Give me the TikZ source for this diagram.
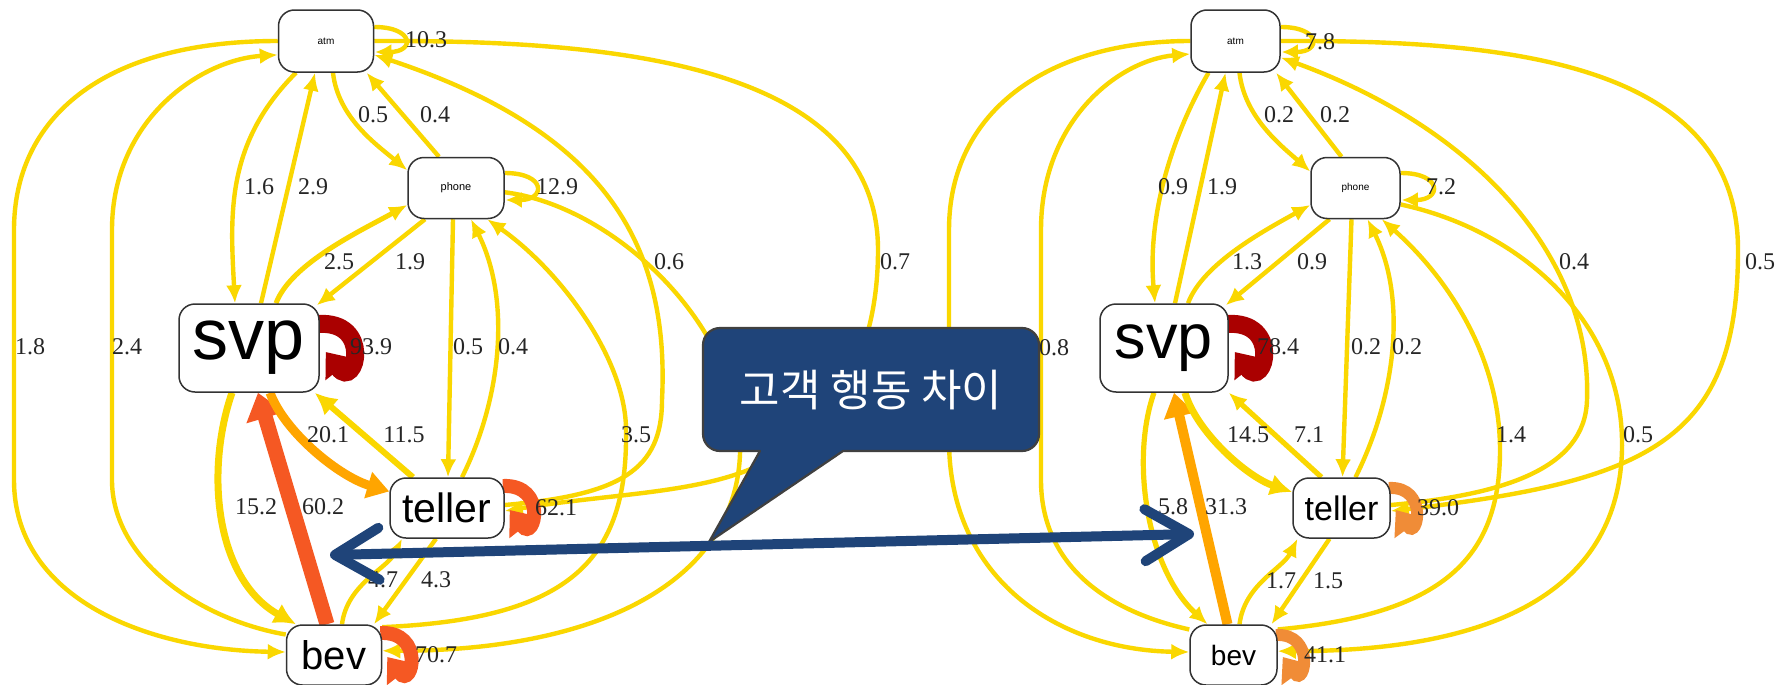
\documentclass[tikz,border=0pt]{standalone}
\usepackage{fontspec}
\setmainfont{Liberation Serif}
\newfontfamily\sansf{Liberation Sans}
\newfontfamily\cjk{Noto Sans CJK KR}
\usetikzlibrary{arrows.meta,calc}
\pgfdeclarelayer{bgl}
\pgfdeclarelayer{edgel}
\pgfsetlayers{bgl,edgel,main}
\definecolor{yel}{RGB}{250,215,0}
\definecolor{orng}{RGB}{255,165,0}
\definecolor{redor}{RGB}{245,88,35}
\definecolor{lor}{RGB}{240,140,55}
\definecolor{dkred}{RGB}{170,0,0}
\definecolor{navy}{RGB}{31,68,121}
\definecolor{rim}{RGB}{64,64,64}
\begin{document}
\begin{tikzpicture}[x=0.5pt,y=0.5pt,
  box/.style={draw=black!80, line width=0.75pt, fill=white, rounded corners=8pt, inner sep=0pt, text=black},
  ye/.style={draw=yel, line width=2.2pt, -{Latex[length=9pt,width=8pt]}},
  yethick/.style={draw=yel, line width=#1, -{Latex[length=11pt,width=11pt]}},
  lab/.style={font=\fontsize{12pt}{14pt}\selectfont, inner sep=0pt, text=black!85},
  selfloop/.style 2 args={draw=#1, line width=#2, -{Triangle[length=11pt,width=17pt]}},
  ylooptip/.style={draw=yel, line width=2.2pt, -{Latex[length=8pt,width=8pt]}}
]
\begin{pgfonlayer}{bgl}
  \fill[white] (0,0) rectangle (1783,-685);
\end{pgfonlayer}
\useasboundingbox (0,0) rectangle (1783,-685);

% ---------- nodes, left network ----------
\node[box, minimum width=47.5pt, minimum height=31pt, font=\sansf\fontsize{5pt}{6pt}\selectfont] (atmL) at (326,-41) {atm};
\node[box, minimum width=48pt, minimum height=30.5pt, font=\sansf\fontsize{5.5pt}{6pt}\selectfont] (phoneL) at (456,-188) {phone};
\node[box, minimum width=70pt, minimum height=44pt, font=\sansf\fontsize{36pt}{38pt}\selectfont] (svpL) at (249,-348) {svp};
\node[box, minimum width=57pt, minimum height=30pt, font=\sansf\fontsize{20.5pt}{22pt}\selectfont] (tellerL) at (447,-508) {teller};
\node[box, minimum width=47.5pt, minimum height=30pt, font=\sansf\fontsize{20pt}{22pt}\selectfont] (bevL) at (334,-655) {bev};

% ---------- nodes, right network ----------
\node[box, minimum width=44.5pt, minimum height=31pt, font=\sansf\fontsize{5pt}{6pt}\selectfont] (atmR) at (1235.5,-41) {atm};
\node[box, minimum width=44.5pt, minimum height=30.5pt, font=\sansf\fontsize{5pt}{6pt}\selectfont] (phoneR) at (1355.5,-188) {phone};
\node[box, minimum width=64pt, minimum height=44pt, font=\sansf\fontsize{31.5pt}{34pt}\selectfont] (svpR) at (1164,-348) {svp};
\node[box, minimum width=48.5pt, minimum height=30pt, font=\sansf\fontsize{17pt}{19pt}\selectfont] (tellerR) at (1341.5,-508) {teller};
\node[box, minimum width=43.5pt, minimum height=30pt, font=\sansf\fontsize{14pt}{16pt}\selectfont] (bevR) at (1233.5,-655) {bev};

\begin{pgfonlayer}{edgel}
% ---------- transitions, left network ----------
\draw[ye] ($(atmL.south)+(-30,0)$) .. controls +(-70,-70) and +(-5,90) .. ($(svpL.north)+(-14,0)$);
\draw[ye] ($(svpL.north)+(12,0)$) -- ($(atmL.south)+(-11,0)$);
\draw[ye] ($(atmL.south)+(7,0)$) .. controls +(5,-45) and +(-30,25) .. (phoneL.160);
\draw[ye] ($(phoneL.north)+(-17,0)$) -- (atmL.-38);
\draw[ye, line width=2.5pt] ($(svpL.north)+(27,0)$) .. controls +(15,40) and +(-45,-25) .. ($(phoneL.west)+(0,-17)$);
\draw[ye] ($(phoneL.south)+(-31,0)$) -- ($(svpL.north east)+(-3,-2)$);
\draw[ye] ($(phoneL.south)+(-3,0)$) -- ($(tellerL.north)+(1,0)$);
\draw[ye] ($(tellerL.north)+(15,0)$) .. controls +(40,80) and +(40,-80) .. ($(phoneL.south)+(15,0)$);
\draw[ye] (bevL.30) .. controls +(188,8) and +(2,-130) .. (626,-430) .. controls +(0,70) and +(74,-52) .. (phoneL.-45);
\draw[ye] (phoneL.-5) .. controls +(106,-13) and +(-5,120) .. (740,-440) .. controls +(5,-140) and +(218,0) .. (bevL.5);
\draw[ye] ($(tellerL.east)+(0,3)$) .. controls +(116,10) and +(0,-70) .. (662,-400) .. controls +(8,160) and +(226,-75) .. (atmL.-16);
\draw[ye] (atmL.east) .. controls +(226,1) and +(0,190) .. (878,-250) .. controls +(0,-110) and +(87,32) .. (743,-472) .. controls +(-60,-22) and +(96,16) .. ($(tellerL.east)+(0,-3)$);
\draw[ye] (atmL.west) .. controls +(-178,0) and +(0,110) .. (14,-230) -- (14,-480) .. controls +(0,-120) and +(-136,2) .. ($(bevL.west)+(0,3)$);
\draw[ye] (bevL.157) .. controls +(-86,15) and +(0,-80) .. (112,-480) -- (112,-230) .. controls +(0,110) and +(-78,-5) .. (atmL.196);
\draw[yethick=3.5pt] ($(svpL.south)+(-17,0)$) .. controls +(-27,-78) and +(-81,45) .. ($(bevL.north)+(-38,0)$);
\draw[draw=redor, line width=7.5pt, -{Triangle[length=13pt,width=19pt]}] ($(bevL.north)+(-7,0)$) -- ($(svpL.south)+(9,0)$);
\draw[draw=orng, line width=4.5pt, -{Triangle[length=11pt,width=13pt]}] ($(svpL.south)+(21,0)$) .. controls +(15,-40) and +(-50,15) .. (tellerL.164);
\draw[yethick=3pt] ($(tellerL.north)+(-34,0)$) -- ($(svpL.south east)+(-5,0)$);
\draw[ye] ($(bevL.north)+(8,0)$) .. controls +(5,40) and +(-15,-30) .. ($(tellerL.south)+(-45,0)$);
\draw[ye] ($(tellerL.south)+(-11,0)$) -- ($(bevL.north)+(40,0)$);
% self transitions, left
\draw[ylooptip] ($(atmL.east)+(0,14)$) .. controls +(40,0) and +(40,0) .. ($(atmL.east)+(1,-11)$);
\draw[ylooptip] ($(phoneL.east)+(0,15)$) .. controls +(42,0) and +(40,0) .. ($(phoneL.east)+(1,-12)$);
\draw[selfloop={dkred}{9pt}] ($(svpL.east)+(-2,24)$) .. controls +(55,4) and +(30,-38) .. ($(svpL.east)+(6,-4)$);
\draw[selfloop={redor}{7pt}] ($(tellerL.east)+(-2,22)$) .. controls +(45,2) and +(25,-32) .. ($(tellerL.east)+(5,-2)$);
\draw[selfloop={redor}{7pt}] ($(bevL.east)+(-2,22)$) .. controls +(45,2) and +(25,-32) .. ($(bevL.east)+(5,-2)$);

% ---------- transitions, right network ----------
\draw[ye] ($(atmR.south)+(-27,0)$) .. controls +(-35,-60) and +(-8,90) .. ($(svpR.north)+(-9,0)$);
\draw[ye] ($(svpR.north)+(11,0)$) -- ($(atmR.south)+(-10,0)$);
\draw[ye] ($(atmR.south)+(4,0)$) .. controls +(5,-45) and +(-28,25) .. (phoneR.160);
\draw[ye] ($(phoneR.north)+(-14,0)$) -- (atmR.-38);
\draw[ye] ($(svpR.north)+(24,0)$) .. controls +(15,40) and +(-45,-25) .. ($(phoneR.west)+(0,-17)$);
\draw[ye] ($(phoneR.south)+(-26,0)$) -- ($(svpR.north east)+(-3,-2)$);
\draw[ye] ($(phoneR.south)+(-4,0)$) -- ($(tellerR.north)+(1,0)$);
\draw[ye] ($(tellerR.north)+(14,0)$) .. controls +(40,80) and +(40,-80) .. ($(phoneR.south)+(12,0)$);
\draw[ye] (bevR.30) .. controls +(163,15) and +(0,-110) .. (1500,-450) .. controls +(0,100) and +(59,-52) .. (phoneR.-50);
\draw[ye] (phoneR.-20) .. controls +(120,-26) and +(-2,120) .. (1622,-440) .. controls +(2,-120) and +(263,0) .. (bevR.5);
\draw[ye] ($(tellerR.east)+(0,3)$) .. controls +(110,10) and +(-2,-70) .. (1587,-400) .. controls +(5,140) and +(200,-73) .. (atmR.-20);
\draw[ye] (atmR.east) .. controls +(220,1) and +(0,190) .. (1738,-250) .. controls +(0,-190) and +(260,30) .. ($(tellerR.east)+(0,-3)$);
\draw[ye] (atmR.west) .. controls +(-141,0) and +(0,120) .. (949,-230) -- (949,-440) .. controls +(0,-140) and +(-130,2) .. ($(bevR.west)+(0,3)$);
\draw[ye] (bevR.150) .. controls +(-90,20) and +(0,-80) .. (1041,-480) -- (1041,-230) .. controls +(0,110) and +(-71,-6) .. (atmR.196);
\draw[ye, line width=2.6pt] ($(svpR.south)+(-10,0)$) .. controls +(-24,-68) and +(-60,55) .. ($(bevR.north)+(-26,0)$);
\draw[draw=orng, line width=5pt, -{Triangle[length=12pt,width=15pt]}] ($(bevR.north)+(-6,0)$) -- ($(svpR.south)+(10,0)$);
\draw[yethick=3.5pt] ($(svpR.south)+(21,0)$) .. controls +(12,-40) and +(-45,15) .. (tellerR.162);
\draw[ye, line width=2.6pt] ($(tellerR.north)+(-20,0)$) -- (svpR.south east);
\draw[ye] ($(bevR.north)+(6,0)$) .. controls +(5,40) and +(-15,-30) .. ($(tellerR.south)+(-44,0)$);
\draw[ye] ($(tellerR.south)+(-12,0)$) -- ($(bevR.north)+(38,0)$);
% self transitions, right
\draw[ylooptip] ($(atmR.east)+(0,14)$) .. controls +(40,0) and +(40,0) .. ($(atmR.east)+(1,-11)$);
\draw[ylooptip] ($(phoneR.east)+(0,15)$) .. controls +(42,0) and +(40,0) .. ($(phoneR.east)+(1,-12)$);
\draw[selfloop={dkred}{9pt}] ($(svpR.east)+(-2,24)$) .. controls +(55,4) and +(30,-38) .. ($(svpR.east)+(6,-4)$);
\draw[selfloop={lor}{6pt}] ($(tellerR.east)+(-2,20)$) .. controls +(40,2) and +(22,-30) .. ($(tellerR.east)+(5,-2)$);
\draw[selfloop={lor}{6pt}] ($(bevR.east)+(-2,20)$) .. controls +(40,2) and +(22,-30) .. ($(bevR.east)+(5,-2)$);
\end{pgfonlayer}

% ---------- transition probabilities, left ----------
\node[lab] (lA1) at (426,-40) {10.3};
\node[lab] (lA2) at (373,-115) {0.5};
\node[lab] (lA3) at (435,-115) {0.4};
\node[lab] (lA4) at (259,-187) {1.6};
\node[lab] (lA5) at (313,-187) {2.9};
\node[lab] (lA6) at (557,-187) {12.9};
\node[lab] (lA7) at (339,-262) {2.5};
\node[lab] (lA8) at (410,-262) {1.9};
\node[lab] (lA9) at (669,-262) {0.6};
\node[lab] (lA10) at (895,-262) {0.7};
\node[lab] (lA11) at (30,-347) {1.8};
\node[lab] (lA12) at (127,-347) {2.4};
\node[lab] (lA13) at (371,-347) {93.9};
\node[lab] (lA14) at (468,-347) {0.5};
\node[lab] (lA15) at (513,-347) {0.4};
\node[lab] (lA16) at (636,-435) {3.5};
\node[lab] (lA17) at (328,-435) {20.1};
\node[lab] (lA18) at (404,-435) {11.5};
\node[lab] (lA19) at (256,-507) {15.2};
\node[lab] (lA20) at (323,-507) {60.2};
\node[lab] (lA21) at (556,-508) {62.1};
\node[lab] (lA22) at (383,-580) {4.7};
\node[lab] (lA23) at (436,-580) {4.3};
\node[lab] (lA24) at (436,-655) {70.7};

% ---------- transition probabilities, right ----------
\node[lab] (lB1) at (1320,-42) {7.8};
\node[lab] (lB2) at (1279,-115) {0.2};
\node[lab] (lB3) at (1335,-115) {0.2};
\node[lab] (lB4) at (1173,-187) {0.9};
\node[lab] (lB5) at (1222,-187) {1.9};
\node[lab] (lB6) at (1441,-187) {7.2};
\node[lab] (lB7) at (1247,-262) {1.3};
\node[lab] (lB8) at (1312,-262) {0.9};
\node[lab] (lB9) at (1574,-262) {0.4};
\node[lab] (lB10) at (1760,-262) {0.5};
\node[lab] (lB11) at (1054,-348) {0.8};
\node[lab] (lB12) at (1278,-347) {78.4};
\node[lab] (lB13) at (1366,-347) {0.2};
\node[lab] (lB14) at (1407,-347) {0.2};
\node[lab] (lB15) at (1511,-435) {1.4};
\node[lab] (lB16) at (1638,-435) {0.5};
\node[lab] (lB17) at (1248,-435) {14.5};
\node[lab] (lB18) at (1309,-435) {7.1};
\node[lab] (lB19) at (1173,-507) {5.8};
\node[lab] (lB20) at (1226,-507) {31.3};
\node[lab] (lB21) at (1438,-508) {39.0};
\node[lab] (lB22) at (1281,-581) {1.7};
\node[lab] (lB23) at (1328,-581) {1.5};
\node[lab] (lB24) at (1325,-655) {41.1};

% ---------- speech bubble ----------
\filldraw[fill=navy, draw=rim, line width=1.1pt, line join=round]
  (709,-542) -- (760,-451) -- (720,-451)
  arc[start angle=270, end angle=180, radius=8.5pt] -- (703,-345)
  arc[start angle=180, end angle=90, radius=8.5pt] -- (1022,-328)
  arc[start angle=90, end angle=0, radius=8.5pt] -- (1039,-434)
  arc[start angle=0, end angle=-90, radius=8.5pt] -- (843,-451) -- cycle;
\node[text=white, font=\cjk\fontsize{22pt}{26pt}\selectfont] (bubbleText) at (871,-390) {고객 행동 차이};

% ---------- comparison arrow ----------
\coordinate (cmpL) at (330,-555);
\coordinate (cmpR) at (1194,-534);
\draw[navy, line width=5pt, {Straight Barb[length=22pt,width=26pt,round]}-{Straight Barb[length=22pt,width=26pt,round]}] (cmpL) -- (cmpR);
\end{tikzpicture}
\end{document}
